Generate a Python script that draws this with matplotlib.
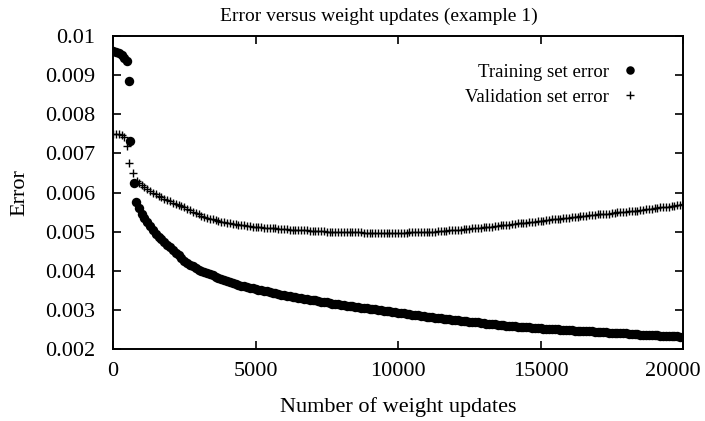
import numpy as np
import matplotlib
matplotlib.use("Agg")
import matplotlib.pyplot as plt
import matplotlib.transforms as mtransforms

plt.rcParams['font.family'] = ['Liberation Serif', 'DejaVu Serif']

# early part of the run (irregular spacing), error in units of 1e-3
train_x_early = [0, 100, 200, 300, 400, 500, 560, 600, 740, 800, 900]
train_y_early = [9.62, 9.60, 9.57, 9.52, 9.45, 9.36, 8.84, 7.32, 6.25, 5.76, 5.60]

valid_x_early = [0, 100, 200, 300, 400, 500, 560, 700, 850, 900]
valid_y_early = [7.50, 7.50, 7.49, 7.47, 7.42, 7.19, 6.75, 6.50, 6.30, 6.25]

# dense part: one sample every 100 updates from 1000 to 20000
dense_x = np.arange(1000, 20001, 100)

train_y_dense = [
    5.45, 5.34, 5.24, 5.14, 5.04, 4.95, 4.87, 4.80, 4.73, 4.66,
    4.60, 4.53, 4.46, 4.39, 4.32, 4.25, 4.20, 4.15, 4.11, 4.07,
    4.03, 4.00, 3.97, 3.94, 3.91, 3.88, 3.85, 3.82, 3.79, 3.77,
    3.74, 3.72, 3.69, 3.67, 3.64, 3.62, 3.60, 3.58, 3.56, 3.55,
    3.53, 3.51, 3.50, 3.48, 3.47, 3.45, 3.44, 3.42, 3.41, 3.39,
    3.38, 3.36, 3.35, 3.34, 3.32, 3.31, 3.30, 3.29, 3.27, 3.26,
    3.25, 3.24, 3.23, 3.21, 3.20, 3.19, 3.18, 3.16, 3.15, 3.14,
    3.13, 3.12, 3.11, 3.10, 3.09, 3.08, 3.07, 3.06, 3.05, 3.04,
    3.03, 3.02, 3.01, 3.00, 2.99, 2.98, 2.97, 2.96, 2.95, 2.94,
    2.93, 2.92, 2.91, 2.90, 2.89, 2.88, 2.87, 2.86, 2.85, 2.84,
    2.83, 2.82, 2.81, 2.80, 2.79, 2.78, 2.77, 2.76, 2.76, 2.75,
    2.74, 2.73, 2.72, 2.72, 2.71, 2.70, 2.69, 2.68, 2.68, 2.67,
    2.66, 2.65, 2.64, 2.64, 2.63, 2.62, 2.61, 2.61, 2.60, 2.59,
    2.59, 2.58, 2.57, 2.57, 2.56, 2.56, 2.55, 2.54, 2.54, 2.53,
    2.53, 2.52, 2.51, 2.51, 2.50, 2.50, 2.50, 2.49, 2.49, 2.48,
    2.48, 2.48, 2.47, 2.47, 2.46, 2.46, 2.46, 2.45, 2.45, 2.44,
    2.44, 2.44, 2.43, 2.43, 2.42, 2.42, 2.42, 2.41, 2.41, 2.40,
    2.40, 2.39, 2.39, 2.38, 2.38, 2.37, 2.37, 2.36, 2.36, 2.35,
    2.35, 2.35, 2.34, 2.34, 2.33, 2.33, 2.33, 2.32, 2.32, 2.31,
    2.31,
]

valid_y_dense = [
    6.20, 6.14, 6.08, 6.03, 5.99, 5.95, 5.91, 5.88, 5.84, 5.81,
    5.78, 5.74, 5.71, 5.68, 5.65, 5.62, 5.58, 5.55, 5.51, 5.48,
    5.44, 5.41, 5.38, 5.35, 5.33, 5.31, 5.29, 5.27, 5.25, 5.24,
    5.22, 5.21, 5.20, 5.19, 5.18, 5.17, 5.16, 5.15, 5.14, 5.13,
    5.12, 5.11, 5.11, 5.10, 5.09, 5.09, 5.08, 5.08, 5.07, 5.07,
    5.06, 5.06, 5.05, 5.05, 5.04, 5.04, 5.04, 5.03, 5.03, 5.02,
    5.02, 5.02, 5.01, 5.01, 5.01, 5.00, 5.00, 5.00, 5.00, 4.99,
    4.99, 4.99, 4.99, 4.98, 4.98, 4.98, 4.98, 4.98, 4.97, 4.97,
    4.97, 4.97, 4.97, 4.97, 4.97, 4.97, 4.97, 4.97, 4.97, 4.97,
    4.97, 4.97, 4.97, 4.97, 4.98, 4.98, 4.98, 4.98, 4.98, 4.99,
    4.99, 4.99, 5.00, 5.00, 5.01, 5.01, 5.02, 5.02, 5.03, 5.03,
    5.04, 5.05, 5.05, 5.06, 5.06, 5.07, 5.08, 5.09, 5.09, 5.10,
    5.11, 5.12, 5.12, 5.13, 5.14, 5.15, 5.16, 5.17, 5.17, 5.18,
    5.19, 5.20, 5.21, 5.21, 5.22, 5.23, 5.24, 5.25, 5.25, 5.26,
    5.27, 5.28, 5.29, 5.30, 5.31, 5.32, 5.33, 5.33, 5.34, 5.35,
    5.36, 5.37, 5.38, 5.38, 5.39, 5.40, 5.41, 5.42, 5.42, 5.43,
    5.44, 5.45, 5.45, 5.46, 5.46, 5.47, 5.48, 5.49, 5.49, 5.50,
    5.51, 5.52, 5.53, 5.53, 5.54, 5.55, 5.56, 5.57, 5.58, 5.59,
    5.60, 5.61, 5.62, 5.62, 5.63, 5.64, 5.65, 5.66, 5.67, 5.68,
    5.70,
]

x_ticks = [0, 5000, 10000, 15000, 20000]
x_tick_labels = ['0', '5000', '10000', '15000', '20000']
y_ticks = [0.002, 0.003, 0.004, 0.005, 0.006, 0.007, 0.008, 0.009, 0.01]
y_tick_labels = ['0.002', '0.003', '0.004', '0.005', '0.006', '0.007', '0.008', '0.009', '0.01']

train_x = np.concatenate([train_x_early, dense_x])
train_y = np.concatenate([train_y_early, train_y_dense]) * 1e-3
valid_x = np.concatenate([valid_x_early, dense_x])
valid_y = np.concatenate([valid_y_early, valid_y_dense]) * 1e-3

fig = plt.figure(figsize=(7.05, 4.21), dpi=100)
ax = fig.add_axes([0.1603, 0.171, 0.8085, 0.7435])

ax.plot(train_x, train_y, linestyle='none', marker='o', markersize=6.8,
        color='black', markeredgewidth=0, label='Training set error')
ax.plot(valid_x, valid_y, linestyle='none', marker='+', markersize=6,
        color='black', markeredgewidth=1.0, label='Validation set error')

ax.set_xlim(0, 20000)
ax.set_ylim(0.002, 0.01)
ax.set_xticks(x_ticks)
ax.set_xticklabels(x_tick_labels)
ax.set_yticks(y_ticks)
ax.set_yticklabels(y_tick_labels)
ax.tick_params(direction='in', length=6, width=1.2, top=True, right=True, labelsize=16)
ax.tick_params(axis='y', pad=13)
ax.tick_params(axis='x', pad=9)
for sp in ax.spines.values():
    sp.set_linewidth(1.4)

# last x label sits at the figure edge: nudge it left so it stays whole
last = ax.get_xticklabels()[-1]
last.set_transform(last.get_transform() + mtransforms.ScaledTranslation(-7 / 72, 0, fig.dpi_scale_trans))

ax.set_title('Error versus weight updates (example 1)', fontsize=14, pad=11, x=0.467)
ax.set_xlabel('Number of weight updates', fontsize=16, labelpad=12)
ax.set_ylabel('Error', fontsize=16, labelpad=11)

ax.legend(loc='upper right', bbox_to_anchor=(0.956, 0.965), frameon=False,
          markerfirst=False, numpoints=1, fontsize=13.5, handlelength=1.2,
          handletextpad=0.5, labelspacing=0.4, markerscale=0.9)

fig.savefig('out.png', dpi=100)
